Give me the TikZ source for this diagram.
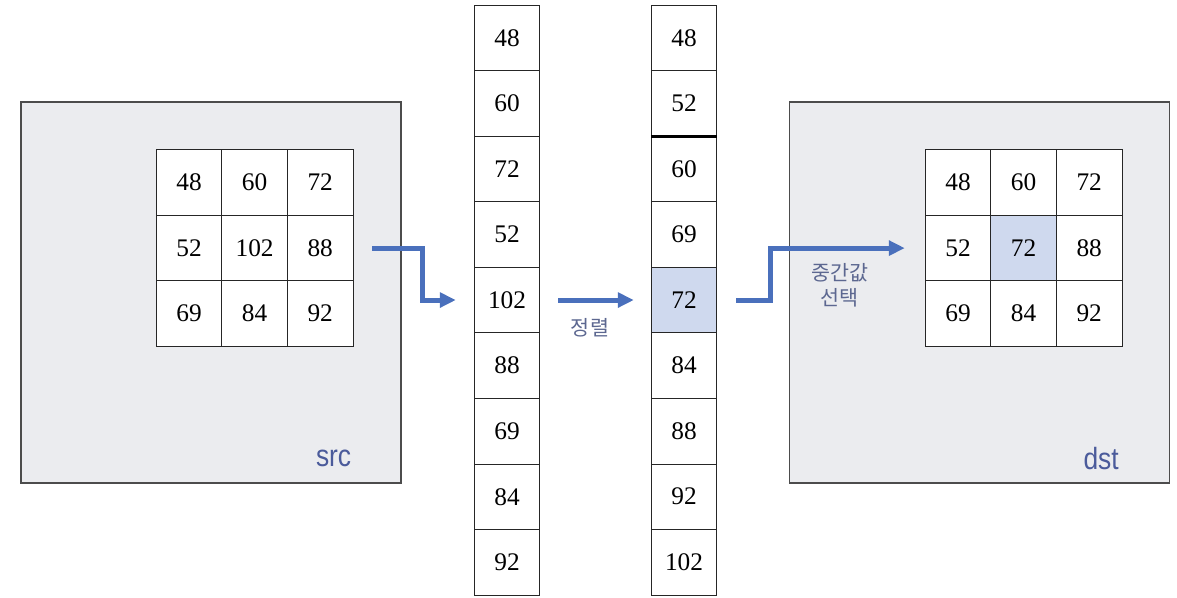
\documentclass[tikz,border=0pt]{standalone}
\usepackage{fontspec}
\setmainfont{Liberation Serif}
\setsansfont{Liberation Sans}
\newfontfamily\krfont{Noto Sans CJK KR}
\newfontfamily\tagfont[FakeStretch=0.86]{Liberation Sans}
\usetikzlibrary{arrows.meta,positioning,calc}
\definecolor{panelgray}{HTML}{EBECEF}
\definecolor{pick}{HTML}{CFD9EE}
\definecolor{flowblue}{HTML}{4A70BC}
\definecolor{tagblue}{HTML}{4B5B9B}
\definecolor{notegray}{HTML}{5C6790}
\tikzset{
  panel/.style={draw=black!70,fill=panelgray,line width=0.9pt,minimum width=285pt,minimum height=285.75pt},
  cell/.style={draw=black!85,line width=0.6pt,minimum width=49.25pt,minimum height=49.2pt,inner sep=0pt,font=\fontsize{19}{22}\selectfont},
  flow/.style={-{Triangle[length=12pt,width=11pt]},draw=flowblue,line width=3.75pt},
  tag/.style={font=\tagfont\fontsize{23}{26}\selectfont,text=tagblue},
  note/.style={font=\krfont\fontsize{15.5}{19}\selectfont,text=notegray,align=center}
}
\begin{document}
\begin{tikzpicture}[x=0.75pt,y=-0.75pt]
  \useasboundingbox (0,0) rectangle (1177,598);
  % image panels
  \node[panel] (lp) at (211,292.5) {};
  \node[panel] (rp) at (979.5,292.5) {};
  % 3x3 windows
  \foreach \v [count=\k from 0] in {48,60,72,52,102,88,69,84,92} {
    \pgfmathtruncatemacro\r{div(\k,3)}
    \pgfmathtruncatemacro\c{mod(\k,3)}
    \node[cell,fill=white] (s\r\c) at ({189+65.6*\c},{182.5+65.6*\r}) {\v};
  }
  \foreach \v/\f [count=\k from 0] in {48/white,60/white,72/white,52/white,72/pick,88/white,69/white,84/white,92/white} {
    \pgfmathtruncatemacro\r{div(\k,3)}
    \pgfmathtruncatemacro\c{mod(\k,3)}
    \node[cell,fill=\f] (d\r\c) at ({958+65.6*\c},{182.5+65.6*\r}) {\v};
  }
  % unsorted and sorted columns
  \foreach \v [count=\k] in {48,60,72,52,102,88,69,84,92}
    \node[cell,fill=white] (u\k) at (507,{37.8+65.56*(\k-1)}) {\v};
  \foreach \v/\f [count=\k] in {48/white,52/white,60/white,69/white,72/pick,84/white,88/white,92/white,102/white}
    \node[cell,fill=\f] (v\k) at (684,{37.8+65.56*(\k-1)}) {\v};
  \draw[line width=1.6pt] (v2.south west) -- (v2.south east);
  % labels
  \node[tag] (srctag) at ($(lp.south east)+(-68,-25)$) {src};
  \node[tag] (dsttag) at ($(rp.south east)+(-69,-25)$) {dst};
  % arrows
  \coordinate[right=14.25pt of s12.east] (a1);
  \coordinate[left=13.5pt of u5.west] (b1);
  \draw[flow] (a1) -- ++(37.5pt,0) |- (b1);
  \coordinate[right=13.5pt of u5.east] (a2);
  \coordinate[left=12.75pt of v5.west] (b2);
  \draw[flow] (a2) -- (b2);
  \node[note] (sortlbl) at ($(a2)!0.5!(b2)+(-6,28)$) {정렬};
  \coordinate[right=14.25pt of v5.east] (a3);
  \coordinate[left=15pt of d10.west] (b3);
  \draw[flow] (a3) -- ++(25.5pt,0) |- (b3);
  \node[note] (picklbl) at ($(b3)+(-65,37)$) {중간값\\선택};
\end{tikzpicture}
\end{document}
